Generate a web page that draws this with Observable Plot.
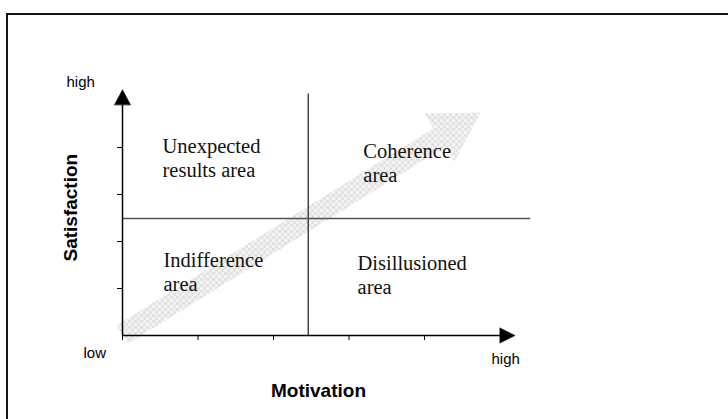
<!DOCTYPE html>
<html>
<head>
<meta charset="utf-8">
<script src="https://cdn.jsdelivr.net/npm/d3@7"></script>
<script src="https://cdn.jsdelivr.net/npm/@observablehq/plot@0.6"></script>
<style>
  body { margin: 0; background: #fff; overflow: hidden; }
  #wrap { position: relative; width: 728px; height: 419px; }
  #wrap svg { position: absolute; left: 0; top: 0; }
  #frame { position: absolute; left: 6px; top: 13px; right: -4px; bottom: -4px;
           border-left: 2px solid #151515; border-top: 2px solid #151515; pointer-events: none; }
</style>
</head>
<body>
<div id="wrap"><div id="frame"></div></div>
<script>
// ---- data (axis units: motivation 0..5, satisfaction 0..5) ----
const motivationTicks = [0, 1, 2, 3, 4];
const satisfactionTicks = [1, 2, 3, 4];
const axisEnd = 5.0;

const xArrowX = [5.0, 5.2, 5.0];
const xArrowY = [0.16, 0, -0.16];
const yArrowX = [-0.106, 0, 0.106];
const yArrowY = [4.91, 5.23, 4.91];

const motivationSplit = 2.46;
const satisfactionSplit = 2.49;
const splitTop = 5.15;
const splitRight = 5.4;

const trendX = [-0.079, 4.119, 4.000, 4.742, 4.397, 4.278, 0.079];
const trendY = [0.213, 4.404, 4.723, 4.745, 3.702, 4.021, -0.170];

const quadrantLabels = ["Unexpected\nresults area", "Coherence\narea", "Indifference\narea", "Disillusioned\narea"];
const quadrantX = [0.53, 3.19, 0.543, 3.113];
const quadrantY = [4.234, 4.128, 1.809, 1.745];

const endLabels = ["high", "low", "high"];
const endX = [-0.742, -0.517, 4.887];
const endY = [5.523, -0.25, -0.37];

const xTitle = "Motivation";
const yTitle = "Satisfaction";
const xTitlePos = [2.596, -1.03];
const yTitlePos = [-0.775, 2.72];

// ---- build ----
const idx = n => d3.range(n);
const serif = "'Liberation Serif', 'Times New Roman', serif";
const sans = "'Liberation Sans', Arial, sans-serif";

const chart = Plot.plot({
  width: 728,
  height: 419,
  marginLeft: 122,
  marginRight: 228.5,
  marginTop: 100,
  marginBottom: 84,
  x: { domain: [0, 5] },
  y: { domain: [0, 5] },
  style: { background: "transparent" },
  marks: [
    Plot.line(idx(trendX.length), {
      x: i => trendX[i], y: i => trendY[i],
      curve: "linear-closed", fill: "url(#hatch)", stroke: "none"
    }),
    // dividers
    Plot.link([0], { x1: () => motivationSplit, x2: () => motivationSplit, y1: () => 0, y2: () => splitTop,
      stroke: "#1a1a1a", strokeWidth: 1.2 }),
    Plot.link([0], { x1: () => 0, x2: () => splitRight, y1: () => satisfactionSplit, y2: () => satisfactionSplit,
      stroke: "#555", strokeWidth: 1.6 }),
    // axis lines
    Plot.link([0], { x1: () => 0, x2: () => axisEnd, y1: () => 0, y2: () => 0, stroke: "#000", strokeWidth: 1.5 }),
    Plot.link([0], { x1: () => 0, x2: () => 0, y1: () => 0, y2: () => yArrowY[0], stroke: "#000", strokeWidth: 1.5 }),
    Plot.line(idx(3), { x: i => xArrowX[i], y: i => xArrowY[i], curve: "linear-closed", fill: "#000", stroke: "#000", strokeWidth: 0.5 }),
    Plot.line(idx(3), { x: i => yArrowX[i], y: i => yArrowY[i], curve: "linear-closed", fill: "#000", stroke: "#000", strokeWidth: 0.5 }),
    // ticks
    Plot.axisX(motivationTicks, { tickSize: 5, tickFormat: () => "", label: null, stroke: "#000", strokeWidth: 1 }),
    Plot.axisY(satisfactionTicks, { tickSize: 5, tickFormat: () => "", label: null, stroke: "#000", strokeWidth: 1 }),
    // quadrant labels
    Plot.text(quadrantLabels, {
      x: (d, i) => quadrantX[i], y: (d, i) => quadrantY[i], text: d => d,
      textAnchor: "start", lineAnchor: "top", lineHeight: 1.16,
      fontFamily: serif, fontSize: 20.5, fill: "#111"
    }),
    // end labels
    Plot.text(endLabels, {
      x: (d, i) => endX[i], y: (d, i) => endY[i], text: d => d,
      textAnchor: "start", lineAnchor: "top",
      fontFamily: sans, fontSize: 15, fill: "#000"
    }),
    // titles
    Plot.text([xTitle], { x: () => xTitlePos[0], y: () => xTitlePos[1], text: d => d,
      textAnchor: "middle", lineAnchor: "top", fontFamily: sans, fontWeight: "bold", fontSize: 19, fill: "#000" }),
    Plot.text([yTitle], { x: () => yTitlePos[0], y: () => yTitlePos[1], text: d => d, rotate: -90,
      textAnchor: "middle", lineAnchor: "top", fontFamily: sans, fontWeight: "bold", fontSize: 19, fill: "#000" })
  ]
});

// stippled pattern for the trend arrow
const defs = d3.select(chart).insert("defs", ":first-child");
const pat = defs.append("pattern").attr("id", "hatch").attr("patternUnits", "userSpaceOnUse")
  .attr("width", 6).attr("height", 6);
pat.append("rect").attr("width", 6).attr("height", 6).attr("fill", "#f7f7f7");
pat.append("path").attr("d", "M0,0 L6,6 M6,0 L0,6").attr("stroke", "#c4c4c4").attr("stroke-width", 0.7);
pat.append("path").attr("d", "M0,3 L6,3").attr("stroke", "#dadada").attr("stroke-width", 0.5);

const wrap = document.getElementById("wrap");
wrap.insertBefore(chart, wrap.firstChild);
</script>
</body>
</html>
